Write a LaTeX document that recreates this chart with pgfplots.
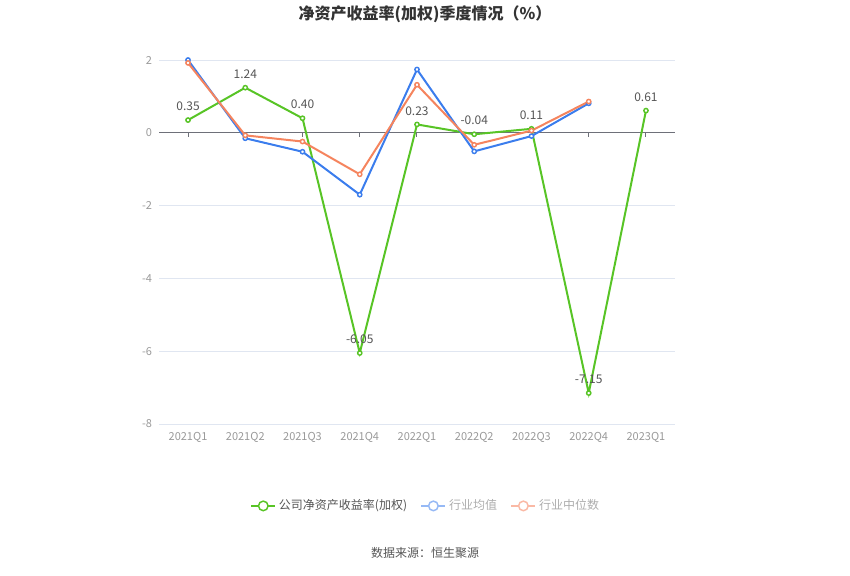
\documentclass[border=0pt]{standalone}
\usepackage{fontspec}
\setmainfont{Noto Sans CJK SC}
\usepackage{pgfplots}
\pgfplotsset{compat=1.18}
\definecolor{cgreen}{RGB}{88,196,38}
\definecolor{cblue}{RGB}{59,125,237}
\definecolor{corange}{RGB}{245,132,94}
\definecolor{lblue}{RGB}{150,185,245}
\definecolor{lorange}{RGB}{250,185,165}
\definecolor{gridc}{RGB}{224,230,241}
\definecolor{tickc}{RGB}{153,153,153}
\definecolor{axc}{RGB}{110,112,121}
\definecolor{labc}{RGB}{85,85,85}
\definecolor{titc}{RGB}{51,51,51}
\begin{document}
\begin{tikzpicture}
\path[use as bounding box] (0pt,0pt) rectangle (637.5pt,-431.25pt);
\node[font=\bfseries\fontsize{12}{14}\selectfont, text=titc] at (318.75pt,-10.5pt) {净资产收益率(加权)季度情况（\%）};
\node[font=\fontsize{9}{11}\selectfont, text=labc] at (318.75pt,-414.75pt) {数据来源：恒生聚源};
\begin{axis}[
  at={(119.55pt,-318pt)}, anchor=south west,
  width=386.4pt, height=273pt, scale only axis,
  xmin=-0.5, xmax=8.5, ymin=-8, ymax=2,
  ytick={-8,-6,-4,-2,0,2},
  xtick={0,...,8},
  xticklabels={2021Q1,2021Q2,2021Q3,2021Q4,2022Q1,2022Q2,2022Q3,2022Q4,2023Q1},
  major tick length=0pt,
  axis line style={draw=none},
  ymajorgrids, grid style={color=gridc, line width=0.75pt},
  tick label style={font=\fontsize{8.25}{10}\selectfont, text=tickc},
  /pgf/number format/assume math mode=true,
  yticklabel style={xshift=-2pt},
  xticklabel style={yshift=-3pt},
  clip=false,
  every axis plot/.append style={line width=1.5pt, mark=*, mark size=1.6pt, mark options={fill=white, line width=1.1pt}},
  legend columns=-1,
  legend style={at={(0.5175,-0.225)}, anchor=center, draw=none, fill=none,
    font=\fontsize{9}{11}\selectfont, /tikz/every even column/.append style={column sep=8pt}},
  legend image code/.code={
    \draw[#1, mark=none] (0pt,0pt) -- (18pt,0pt);
    \draw[#1, mark=none, fill=white, line width=1.1pt] (9pt,0pt) circle (3.6pt);
  },
]
\draw[axc, line width=0.75pt] (axis cs:-0.5,0) -- (axis cs:8.5,0);
\pgfplotsinvokeforeach{0,...,8}{ \draw[axc, line width=0.75pt] (axis cs:#1,0) -- ++(0pt,-3.5pt); }
\addplot[color=cgreen, nodes near coords, point meta=explicit symbolic,
  every node near coord/.append style={font=\fontsize{9}{11}\selectfont, text=labc, yshift=3pt}]
  coordinates {(0,0.35)[0.35] (1,1.24)[1.24] (2,0.40)[0.40] (3,-6.05)[-6.05] (4,0.23)[0.23] (5,-0.04)[-0.04] (6,0.11)[0.11] (7,-7.15)[-7.15] (8,0.61)[0.61]};
\addlegendentry[text=labc]{公司净资产收益率(加权)}
\addplot[color=cblue, forget plot]
  coordinates {(0,2.0) (1,-0.15) (2,-0.52) (3,-1.70) (4,1.74) (5,-0.51) (6,-0.09) (7,0.81)};
\addplot[color=corange, forget plot]
  coordinates {(0,1.92) (1,-0.07) (2,-0.24) (3,-1.14) (4,1.32) (5,-0.33) (6,0.06) (7,0.86)};
\addlegendimage{color=lblue, line width=1.5pt}
\addlegendentry[text=tickc!80]{行业均值}
\addlegendimage{color=lorange, line width=1.5pt}
\addlegendentry[text=tickc!80]{行业中位数}
\end{axis}
\end{tikzpicture}
\end{document}
